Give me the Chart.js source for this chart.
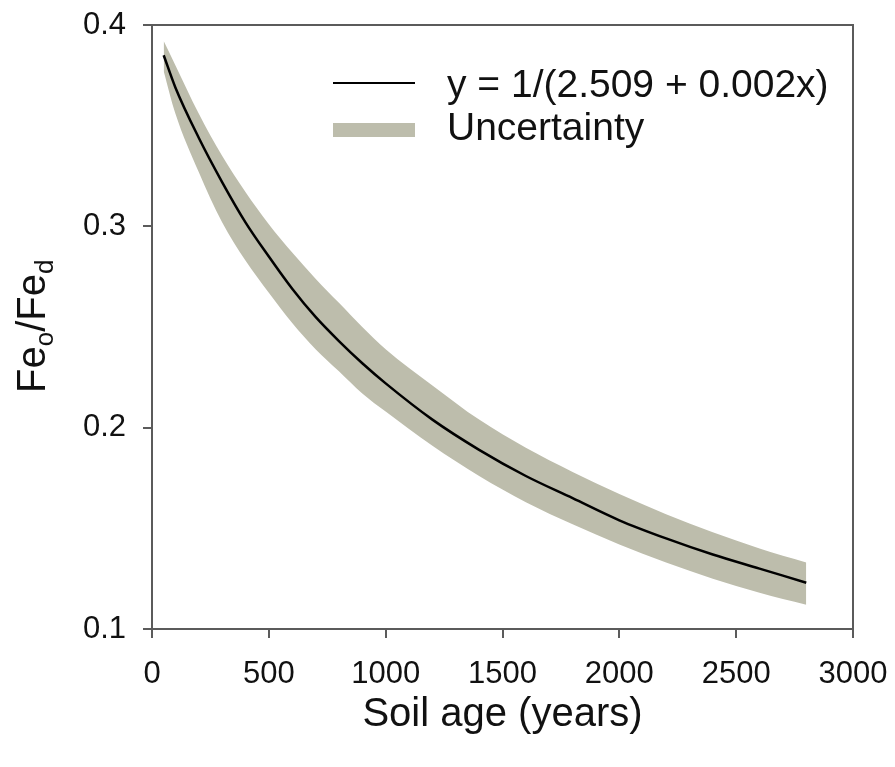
<!DOCTYPE html>
<html>
<head>
<meta charset="utf-8">
<script src="https://cdn.jsdelivr.net/npm/chart.js@4.4.1/dist/chart.umd.min.js"></script>
<style>
  html, body { margin: 0; padding: 0; background: #ffffff; }
  #wrap { width: 895px; height: 767px; }
</style>
</head>
<body>
<div id="wrap"><canvas id="c" width="895" height="767"></canvas></div>
<script>
// Soil age (years) sample positions
const soilAge = [50, 100, 200, 300, 400, 500, 600, 700, 800, 900, 1000, 1200, 1400, 1600, 1800, 2000, 2200, 2400, 2600, 2800];
// Fitted curve y = 1/(2.509 + 0.002x)
const fitValues = [0.385, 0.369, 0.344, 0.322, 0.302, 0.285, 0.269, 0.255, 0.243, 0.232, 0.222, 0.204, 0.189, 0.176, 0.165, 0.154, 0.145, 0.137, 0.130, 0.123];
// Uncertainty band, upper and lower edges
const upperValues = [0.392, 0.380, 0.356, 0.335, 0.317, 0.301, 0.287, 0.274, 0.262, 0.250, 0.239, 0.221, 0.204, 0.190, 0.178, 0.167, 0.157, 0.148, 0.140, 0.133];
const lowerValues = [0.377, 0.356, 0.327, 0.302, 0.283, 0.267, 0.252, 0.239, 0.228, 0.217, 0.208, 0.191, 0.176, 0.163, 0.152, 0.142, 0.133, 0.125, 0.118, 0.112];
// Axis ticks
const xTicks = [0, 500, 1000, 1500, 2000, 2500, 3000];
const yTicks = [0.1, 0.2, 0.3, 0.4];
const legendLabels = ['y = 1/(2.509 + 0.002x)', 'Uncertainty'];

const FONT = "'Liberation Sans', Arial, Helvetica, sans-serif";
const AXIS = '#5b5b5b';
const BAND = '#bdbdac';

function pts(vals) { return soilAge.map((x, i) => ({ x: x, y: vals[i] })); }

const frameAndLabels = {
  id: 'frameAndLabels',
  afterDraw(chart) {
    const ctx = chart.ctx;
    const a = chart.chartArea;
    ctx.save();
    // top and right frame lines
    ctx.strokeStyle = AXIS;
    ctx.lineWidth = 2;
    ctx.beginPath();
    ctx.moveTo(a.left, a.top);
    ctx.lineTo(a.right, a.top);
    ctx.lineTo(a.right, a.bottom);
    ctx.stroke();

    // legend
    const lx0 = 333, lx1 = 415, tx = 447;
    ctx.strokeStyle = '#000000';
    ctx.lineWidth = 2;
    ctx.beginPath();
    ctx.moveTo(lx0, 83);
    ctx.lineTo(lx1, 83);
    ctx.stroke();
    ctx.fillStyle = BAND;
    ctx.fillRect(lx0, 123, lx1 - lx0, 14);
    ctx.fillStyle = '#111111';
    ctx.font = '39px ' + FONT;
    ctx.textBaseline = 'alphabetic';
    ctx.textAlign = 'left';
    ctx.fillText(legendLabels[0], tx, 97);
    ctx.fillText(legendLabels[1], tx, 140);

    // y-axis title with subscripts: Fe_o/Fe_d
    ctx.translate(45, 393);
    ctx.rotate(-Math.PI / 2);
    let x = 0;
    const big = '40px ' + FONT, small = '26px ' + FONT;
    const parts = [['Fe', big, 0], ['o', small, 8], ['/', big, 0], ['Fe', big, 0], ['d', small, 8]];
    for (const [t, f, dy] of parts) {
      ctx.font = f;
      ctx.fillText(t, x, dy);
      x += ctx.measureText(t).width;
    }
    ctx.restore();
  }
};

new Chart(document.getElementById('c'), {
  type: 'line',
  data: {
    datasets: [
      { label: legendLabels[0], data: pts(fitValues), borderColor: '#000000', borderWidth: 2.5,
        pointRadius: 0, fill: false, cubicInterpolationMode: 'monotone', order: 0 },
      { label: 'upper', data: pts(upperValues), borderWidth: 0, borderColor: 'rgba(0,0,0,0)',
        backgroundColor: BAND, pointRadius: 0, fill: '+1', cubicInterpolationMode: 'monotone', order: 1 },
      { label: 'lower', data: pts(lowerValues), borderWidth: 0, borderColor: 'rgba(0,0,0,0)',
        backgroundColor: BAND, pointRadius: 0, fill: false, cubicInterpolationMode: 'monotone', order: 2 }
    ]
  },
  options: {
    responsive: false,
    animation: false,
    layout: { padding: { left: 0, right: 42, top: 25, bottom: 0 } },
    plugins: { legend: { display: false }, tooltip: { enabled: false } },
    scales: {
      x: {
        type: 'linear', min: 0, max: 3000,
        afterBuildTicks(s) { s.ticks = xTicks.map(v => ({ value: v })); },
        afterFit(s) { s.height = 138; s.paddingLeft = 0; s.paddingRight = 0; },
        border: { display: true, color: AXIS, width: 2 },
        grid: { drawOnChartArea: false, drawTicks: true, tickLength: 9, color: AXIS, lineWidth: 2 },
        ticks: { color: '#111111', font: { size: 31, family: FONT }, padding: 18, maxRotation: 0,
                 callback: v => String(v) },
        title: { display: true, text: 'Soil age (years)', color: '#111111',
                 font: { size: 40, family: FONT }, padding: { top: 8, bottom: 28 } }
      },
      y: {
        type: 'linear', min: 0.1, max: 0.4,
        afterBuildTicks(s) { s.ticks = yTicks.map(v => ({ value: v })); },
        afterFit(s) { s.width = 152; s.paddingTop = 0; s.paddingBottom = 0; },
        border: { display: true, color: AXIS, width: 2 },
        grid: { drawOnChartArea: false, drawTicks: true, tickLength: 9, color: AXIS, lineWidth: 2 },
        ticks: { color: '#111111', font: { size: 31, family: FONT }, padding: 17,
                 callback: v => v.toFixed(1) }
      }
    }
  },
  plugins: [frameAndLabels]
});
</script>
</body>
</html>
